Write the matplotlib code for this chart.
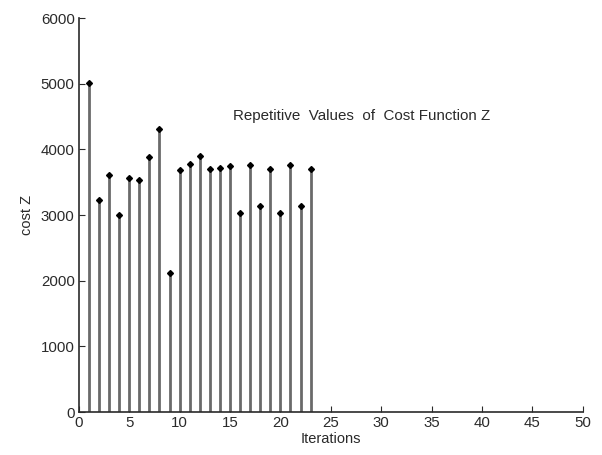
import numpy as np
import matplotlib.pyplot as plt

plt.rcParams['font.family'] = ['Liberation Sans', 'DejaVu Sans']

# valores
iteracoes = list(range(1, 24))
custo_z = [5020, 3225, 3610, 2995, 3560, 3540, 3890, 4310, 2120, 3680,
           3785, 3905, 3700, 3715, 3745, 3025, 3765, 3135, 3700, 3025,
           3765, 3135, 3700]

fig = plt.figure(figsize=(6.02, 4.55), dpi=100)
ax = fig.add_axes([0.131, 0.0945, 0.837, 0.8655])

marker, stem, base = ax.stem(iteracoes, custo_z, basefmt=' ')
plt.setp(stem, color='#6a6a6a', linewidth=2.0)
plt.setp(marker, color='black', marker='D', markersize=3)

ax.text(28.1, 4505, 'Repetitive  Values  of  Cost Function Z',
        ha='center', va='center', fontsize=10.9, color='#2a2a2a')

ax.set_xlim(0, 50)
ax.set_ylim(0, 6000)
ax.set_xticks(np.arange(0, 51, 5))
ax.set_yticks(np.arange(0, 6001, 1000))
ax.set_xlabel('Iterations', fontsize=10.5, color='#2a2a2a', labelpad=1)
ax.set_ylabel('cost Z', fontsize=10.5, color='#2a2a2a', labelpad=5)

for lado in ['top', 'right']:
    ax.spines[lado].set_visible(False)
for lado in ['left', 'bottom']:
    ax.spines[lado].set_color('#2a2a2a')
    ax.spines[lado].set_linewidth(1.2)
ax.tick_params(direction='in', length=4, labelsize=10.8, colors='#2a2a2a',
               pad=3)

fig.savefig('out.png', dpi=100)
